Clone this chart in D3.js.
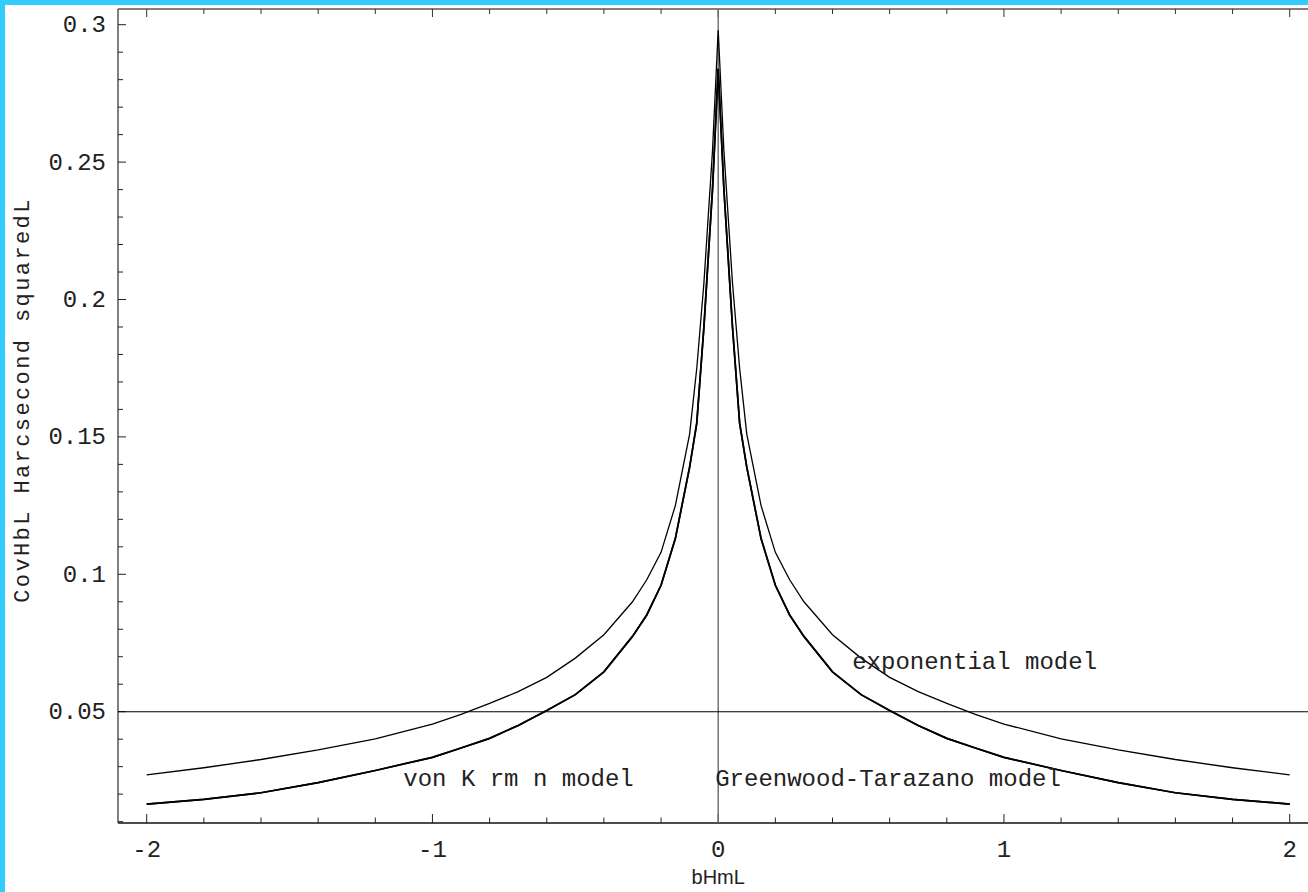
<!DOCTYPE html>
<html>
<head>
<meta charset="utf-8">
<script src="https://cdn.jsdelivr.net/npm/d3@7"></script>
<style>
  html, body { margin: 0; padding: 0; background: #ffffff; overflow: hidden; }
  svg { display: block; }
</style>
</head>
<body>
<svg id="chart" width="1308" height="892"></svg>
<script>
// Baseline separation b (m) at which each covariance model is sampled
const bValues = [
  -2.0, -1.8, -1.6, -1.4, -1.2, -1.0, -0.9, -0.8, -0.7, -0.6, -0.5, -0.4, -0.3,
  -0.25, -0.2, -0.15, -0.1, -0.075, -0.05, -0.02, 0,
  0.02, 0.05, 0.075, 0.1, 0.15, 0.2, 0.25, 0.3, 0.4, 0.5, 0.6, 0.7, 0.8, 0.9,
  1.0, 1.2, 1.4, 1.6, 1.8, 2.0
];

// Cov(b) in arcsecond squared, exponential model
const exponentialModel = [
  0.0270, 0.0296, 0.0326, 0.0361, 0.0401, 0.0455, 0.0490, 0.0530, 0.0573, 0.0625, 0.0695, 0.0780, 0.0900,
  0.0980, 0.1080, 0.1250, 0.1510, 0.1750, 0.2060, 0.2540, 0.2980,
  0.2540, 0.2060, 0.1750, 0.1510, 0.1250, 0.1080, 0.0980, 0.0900, 0.0780, 0.0695, 0.0625, 0.0573, 0.0530, 0.0490,
  0.0455, 0.0401, 0.0361, 0.0326, 0.0296, 0.0270
];

// Cov(b), von Kármán model
const vonKarmanModel = [
  0.0164, 0.0181, 0.0205, 0.0242, 0.0286, 0.0334, 0.0368, 0.0403, 0.0450, 0.0504, 0.0562, 0.0645, 0.0774,
  0.0852, 0.0960, 0.1130, 0.1390, 0.1550, 0.1900, 0.2400, 0.2840,
  0.2400, 0.1900, 0.1550, 0.1390, 0.1130, 0.0960, 0.0852, 0.0774, 0.0645, 0.0562, 0.0504, 0.0450, 0.0403, 0.0368,
  0.0334, 0.0286, 0.0242, 0.0205, 0.0181, 0.0164
];

// Cov(b), Greenwood–Tarazano model (lies on top of the von Kármán curve)
const greenwoodTarazanoModel = [
  0.0164, 0.0181, 0.0205, 0.0242, 0.0286, 0.0334, 0.0368, 0.0403, 0.0450, 0.0504, 0.0562, 0.0645, 0.0774,
  0.0852, 0.0960, 0.1130, 0.1390, 0.1550, 0.1900, 0.2400, 0.2840,
  0.2400, 0.1900, 0.1550, 0.1390, 0.1130, 0.0960, 0.0852, 0.0774, 0.0645, 0.0562, 0.0504, 0.0450, 0.0403, 0.0368,
  0.0334, 0.0286, 0.0242, 0.0205, 0.0181, 0.0164
];

// Axis ticks and labels
const xTickValues = [-2, -1, 0, 1, 2];
const xTickLabels = ["-2", "-1", "0", "1", "2"];
const yTickValues = [0.05, 0.1, 0.15, 0.2, 0.25, 0.3];
const yTickLabels = ["0.05", "0.1", "0.15", "0.2", "0.25", "0.3"];

// Reference level drawn across the plot
const thresholdLevel = 0.05;

// Curve labels
const labelTexts = ["exponential model", "von K rm n model", "Greenwood-Tarazano model"];
const labelB = [0.469, -1.102, -0.0105];
const labelCov = [0.0655, 0.0230, 0.0230];

const xTitle = "bHmL";
const yTitle = "CovHbL Harcsecond squaredL";

// ---- layout ----
const W = 1308, H = 892;
const frame = { left: 118, right: 1330, top: 9, bottom: 823 };
const monoFont = "'Liberation Mono', 'Courier New', monospace";
const textColor = "#222";

const svg = d3.select("#chart");

svg.append("rect").attr("width", W).attr("height", H).attr("fill", "#ffffff");

const x = d3.scaleLinear().domain([-2, 2]).range([146.7, 1289.7]);
const y = d3.scaleLinear().domain([0.05, 0.3]).range([711.7, 24.7]);

// plot clip
svg.append("defs").append("clipPath").attr("id", "plotClip")
  .append("rect")
  .attr("x", frame.left).attr("y", frame.top)
  .attr("width", frame.right - frame.left).attr("height", frame.bottom - frame.top);

// frame lines
svg.append("line").attr("x1", frame.left).attr("x2", frame.right)
  .attr("y1", frame.top).attr("y2", frame.top)
  .attr("stroke", "#555").attr("stroke-width", 1.6);
svg.append("line").attr("x1", frame.left).attr("x2", frame.right)
  .attr("y1", frame.bottom).attr("y2", frame.bottom)
  .attr("stroke", "#111").attr("stroke-width", 1.4);
svg.append("line").attr("x1", frame.left).attr("x2", frame.left)
  .attr("y1", frame.top).attr("y2", frame.bottom)
  .attr("stroke", "#4a4a4a").attr("stroke-width", 1.4);

// x ticks: every 0.2 on the bottom and top frame
const xMinor = d3.range(-10, 11).map(i => i / 5);
const isMajorX = v => Math.abs(v - Math.round(v)) < 1e-9;
svg.append("g").selectAll("line").data(xMinor).join("line")
  .attr("x1", d => x(d)).attr("x2", d => x(d))
  .attr("y1", frame.bottom).attr("y2", d => frame.bottom - (isMajorX(d) ? 9 : 5.5))
  .attr("stroke", "#222").attr("stroke-width", 1);
svg.append("g").selectAll("line").data(xMinor).join("line")
  .attr("x1", d => x(d)).attr("x2", d => x(d))
  .attr("y1", frame.top).attr("y2", d => frame.top + (isMajorX(d) ? 8 : 5))
  .attr("stroke", "#333").attr("stroke-width", 1);

// y ticks: every 0.01 on the left frame
const yMinor = d3.range(1, 31).map(i => i / 100);
const isMajorY = v => Math.abs(v * 20 - Math.round(v * 20)) < 1e-9;
svg.append("g").selectAll("line").data(yMinor).join("line")
  .attr("x1", frame.left).attr("x2", d => frame.left + (isMajorY(d) ? 8 : 5))
  .attr("y1", d => y(d)).attr("y2", d => y(d))
  .attr("stroke", "#222").attr("stroke-width", 1);

// tick labels
svg.append("g").selectAll("text").data(xTickValues).join("text")
  .attr("x", d => x(d)).attr("y", 857)
  .attr("text-anchor", "middle")
  .attr("font-family", monoFont).attr("font-size", 24).attr("fill", textColor)
  .text((d, i) => xTickLabels[i]);

svg.append("g").selectAll("text").data(yTickValues).join("text")
  .attr("x", 106).attr("y", d => y(d) + 7.5)
  .attr("text-anchor", "end")
  .attr("font-family", monoFont).attr("font-size", 24).attr("fill", textColor)
  .text((d, i) => yTickLabels[i]);

// reference lines: b = 0 and Cov = 0.05
svg.append("line").attr("x1", x(0)).attr("x2", x(0))
  .attr("y1", frame.top).attr("y2", frame.bottom)
  .attr("stroke", "#6a6a6a").attr("stroke-width", 1.4);
svg.append("line").attr("x1", frame.left).attr("x2", frame.right)
  .attr("y1", y(thresholdLevel)).attr("y2", y(thresholdLevel))
  .attr("stroke", "#000").attr("stroke-width", 1.1);

// model curves
const line = d3.line().x((d, i) => x(bValues[i])).y(d => y(d)).curve(d3.curveLinear);
const curves = svg.append("g").attr("clip-path", "url(#plotClip)");
curves.append("path").datum(exponentialModel).attr("d", line)
  .attr("fill", "none").attr("stroke", "#000").attr("stroke-width", 1.3);
curves.append("path").datum(vonKarmanModel).attr("d", line)
  .attr("fill", "none").attr("stroke", "#000").attr("stroke-width", 1.7);
curves.append("path").datum(greenwoodTarazanoModel).attr("d", line)
  .attr("fill", "none").attr("stroke", "#000").attr("stroke-width", 1.7);

// curve labels
svg.append("g").selectAll("text").data(labelTexts).join("text")
  .attr("x", (d, i) => x(labelB[i])).attr("y", (d, i) => y(labelCov[i]))
  .attr("font-family", monoFont).attr("font-size", 24).attr("fill", textColor)
  .text(d => d);

// axis titles
svg.append("text")
  .attr("x", x(0)).attr("y", 884)
  .attr("text-anchor", "middle")
  .attr("font-family", "'Liberation Sans', Arial, sans-serif").attr("font-size", 20).attr("fill", textColor)
  .text(xTitle);

svg.append("text")
  .attr("transform", "translate(29,400) rotate(-90)")
  .attr("text-anchor", "middle")
  .attr("font-family", monoFont).attr("font-size", 22)
  .attr("letter-spacing", 2.4).attr("fill", textColor)
  .text(yTitle);

// window border
svg.append("rect").attr("x", 0).attr("y", 0).attr("width", 5).attr("height", H).attr("fill", "#33ccff");
svg.append("rect").attr("x", 0).attr("y", 0).attr("width", W).attr("height", 5).attr("fill", "#33ccff");
</script>
</body>
</html>
